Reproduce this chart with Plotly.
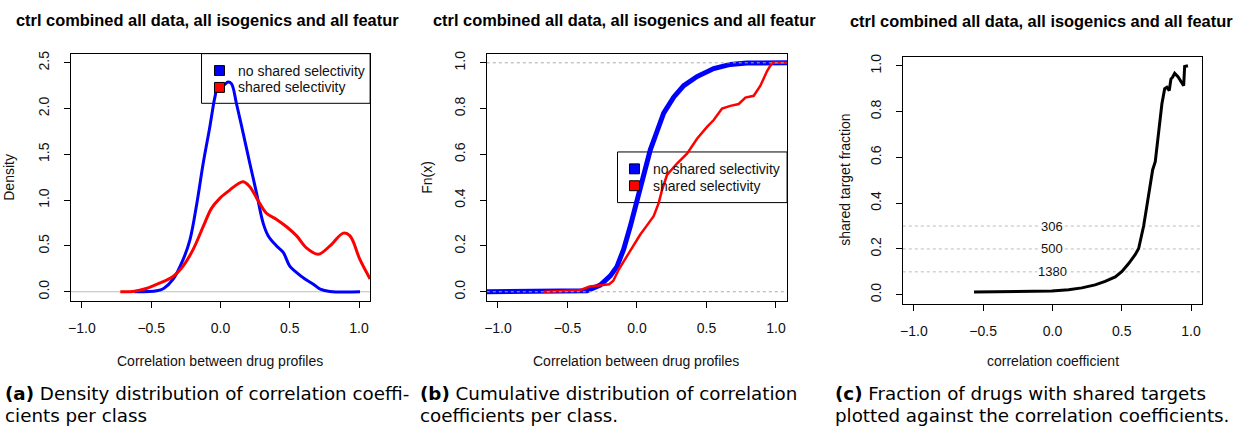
import plotly.graph_objects as go

W, H = 1241, 432

TITLE = "ctrl combined all data, all isogenics and all featur"

# (a) density curves
dens_no_x = [-0.62, -0.46, -0.41, -0.34, -0.27, -0.22, -0.17, -0.125, -0.077, -0.041, -0.017, 0.019,
             0.055, 0.08, 0.116, 0.164, 0.212, 0.26, 0.308, 0.345, 0.405, 0.453, 0.50, 0.55, 0.61,
             0.67, 0.72, 0.79, 1.007]
dens_no_y = [0.0, 0.01, 0.036, 0.14, 0.35, 0.57, 0.97, 1.40, 1.80, 2.12, 2.25, 2.25,
             2.29, 2.27, 2.05, 1.73, 1.40, 1.08, 0.75, 0.61, 0.50, 0.43, 0.28, 0.21, 0.14,
             0.083, 0.03, 0.004, 0.0]
dens_sh_x = [-0.723, -0.63, -0.535, -0.44, -0.34, -0.27, -0.198, -0.125, -0.065, -0.005, 0.067,
             0.128, 0.164, 0.21, 0.27, 0.33, 0.405, 0.477, 0.55, 0.62, 0.706, 0.79, 0.887, 0.935,
             1.007, 1.08]
dens_sh_y = [0.0, 0.004, 0.036, 0.094, 0.17, 0.28, 0.46, 0.71, 0.91, 1.02, 1.11,
             1.18, 1.20, 1.15, 1.00, 0.86, 0.79, 0.71, 0.61, 0.48, 0.41, 0.50, 0.64, 0.61,
             0.35, 0.14]

# (b) empirical cumulative distributions
ecdf_no_x = [-1.08, -0.43, -0.36, -0.264, -0.192, -0.144, -0.096, -0.048, 0.0, 0.048, 0.096,
             0.144, 0.192, 0.264, 0.336, 0.432, 0.552, 0.672, 0.79, 1.08]
ecdf_no_y = [0.0, 0.0, 0.004, 0.029, 0.069, 0.11, 0.185, 0.286, 0.40, 0.52, 0.62,
             0.70, 0.78, 0.85, 0.90, 0.94, 0.975, 0.993, 0.999, 1.0]
ecdf_sh_x = [-0.67, -0.43, -0.41, -0.34, -0.26, -0.20, -0.17, -0.13, -0.072, -0.024, 0.024, 0.072,
             0.12, 0.156, 0.18, 0.216, 0.288, 0.36, 0.432, 0.504, 0.552, 0.612, 0.672, 0.732,
             0.78, 0.84, 0.888, 0.936, 0.972, 1.08]
ecdf_sh_y = [0.0, 0.004, 0.007, 0.023, 0.029, 0.033, 0.048, 0.098, 0.156, 0.206, 0.25, 0.29,
             0.33, 0.387, 0.444, 0.51, 0.56, 0.603, 0.668, 0.72, 0.75, 0.80, 0.812, 0.82,
             0.848, 0.856, 0.90, 0.964, 1.0, 1.0]
ecdf_ref = [0, 1]

# (c) shared target fraction vs correlation
frac_x = [-0.566, -0.414, -0.173, -0.005, 0.116, 0.212, 0.308, 0.38, 0.453, 0.50, 0.55, 0.598,
          0.622, 0.639, 0.658, 0.675, 0.694, 0.713, 0.723, 0.742, 0.754, 0.766, 0.778, 0.79,
          0.81, 0.826, 0.843, 0.855, 0.867, 0.882, 0.906, 0.947, 0.954, 0.978]
frac_y = [0.0116, 0.012, 0.013, 0.016, 0.022, 0.030, 0.043, 0.058, 0.078, 0.101, 0.136, 0.176,
          0.202, 0.249, 0.30, 0.364, 0.436, 0.523, 0.545, 0.581, 0.639, 0.711, 0.754, 0.834,
          0.90, 0.906, 0.892, 0.942, 0.95, 0.967, 0.952, 0.913, 0.997, 1.0]
thresholds = [0.3, 0.2, 0.1]
threshold_labels = ["306", "500", "1380"]

legend_names = ["no shared selectivity", "shared selectivity"]
legend_colors = ["#0000FF", "#FF0000"]

captions = [
    ("<b>(a)</b> Density distribution of correlation coeffi-", "cients per class"),
    ("<b>(b)</b> Cumulative distribution of correlation", "coefficients per class."),
    ("<b>(c)</b> Fraction of drugs with shared targets", "plotted against the correlation coefficients."),
]

FONT = "Liberation Sans, Arial, sans-serif"
CAP_FONT = "DejaVu Sans, sans-serif"


def px(x):
    return x / W


def py(y):
    return 1 - y / H


fig = go.Figure()

# panel a
fig.add_trace(go.Scatter(x=[-1.08, 1.08], y=[0, 0], mode="lines",
                         line=dict(color="#bebebe", width=1), xaxis="x", yaxis="y"))
fig.add_trace(go.Scatter(x=dens_no_x, y=dens_no_y, mode="lines", line_shape="spline",
                         line=dict(color=legend_colors[0], width=3), xaxis="x", yaxis="y"))
fig.add_trace(go.Scatter(x=dens_sh_x, y=dens_sh_y, mode="lines", line_shape="spline",
                         line=dict(color=legend_colors[1], width=3), xaxis="x", yaxis="y"))

# panel b
fig.add_trace(go.Scatter(x=ecdf_no_x, y=ecdf_no_y, mode="lines",
                         line=dict(color=legend_colors[0], width=5), xaxis="x2", yaxis="y2"))
fig.add_trace(go.Scatter(x=ecdf_sh_x, y=ecdf_sh_y, mode="lines",
                         line=dict(color=legend_colors[1], width=2.5), xaxis="x2", yaxis="y2"))
for v in ecdf_ref:
    fig.add_trace(go.Scatter(x=[-1.08, 1.08], y=[v, v], mode="lines",
                             line=dict(color="#aaaaaa", width=1, dash="dot"), xaxis="x2", yaxis="y2"))

# panel c
for v, lab in zip(thresholds, threshold_labels):
    fig.add_trace(go.Scatter(x=[-1.08, 1.08], y=[v, v], mode="lines",
                             line=dict(color="#bbbbbb", width=1, dash="dot"), xaxis="x3", yaxis="y3"))
    fig.add_annotation(x=0, y=v, xref="x3", yref="y3", text=lab, showarrow=False,
                       font=dict(family=FONT, size=13, color="#111"), bgcolor="white",
                       borderpad=0)
fig.add_trace(go.Scatter(x=frac_x, y=frac_y, mode="lines",
                         line=dict(color="black", width=3), xaxis="x3", yaxis="y3"))

axis_common = dict(showline=True, mirror=True, linecolor="black", linewidth=1,
                   ticks="outside", ticklen=6, tickwidth=1, tickcolor="black",
                   showgrid=False, zeroline=False,
                   tickfont=dict(family=FONT, size=14, color="#111"))
xticks = dict(tickvals=[-1, -0.5, 0, 0.5, 1], tickformat=".1f", range=[-1.08, 1.08],
              ticklabelstandoff=8)

fig.update_layout(
    width=W, height=H, margin=dict(l=0, r=0, t=0, b=0),
    plot_bgcolor="white", paper_bgcolor="white", showlegend=False,
    xaxis=dict(domain=[px(68), px(368)], anchor="y", **xticks, **axis_common),
    yaxis=dict(domain=[py(300), py(51)], anchor="x", range=[-0.1, 2.6],
               tickvals=[0, 0.5, 1, 1.5, 2, 2.5], tickformat=".1f", tickangle=-90,
               ticklabelstandoff=9, **axis_common),
    xaxis2=dict(domain=[px(485), px(786)], anchor="y2", **xticks, **axis_common),
    yaxis2=dict(domain=[py(300), py(51)], anchor="x2", range=[-0.04, 1.04],
                tickvals=[0, 0.2, 0.4, 0.6, 0.8, 1.0], tickformat=".1f", tickangle=-90,
                ticklabelstandoff=9, **axis_common),
    xaxis3=dict(domain=[px(902), px(1202)], anchor="y3", **xticks, **axis_common),
    yaxis3=dict(domain=[py(303), py(54)], anchor="x3", range=[-0.04, 1.04],
                tickvals=[0, 0.2, 0.4, 0.6, 0.8, 1.0], tickformat=".1f", tickangle=-90,
                ticklabelstandoff=9, **axis_common),
)

# titles
for x0, y0 in [(11, 17), (429, 17), (847, 18)]:
    fig.add_annotation(x=px(x0), y=py(y0), xref="paper", yref="paper", text="<b>" + TITLE + "</b>",
                       xanchor="left", yanchor="middle", showarrow=False,
                       font=dict(family=FONT, size=16.4, color="black"))

# axis titles
for cx, label in [(218, "Correlation between drug profiles"), (635, "Correlation between drug profiles"),
                  (1053, "correlation coefficient")]:
    fig.add_annotation(x=px(cx), y=py(360), xref="paper", yref="paper", text=label,
                       showarrow=False, xanchor="center", yanchor="middle",
                       font=dict(family=FONT, size=14, color="#111"))
for cx, cy, label in [(6, 175, "Density"), (425, 175, "Fn(x)"), (844, 178, "shared target fraction")]:
    fig.add_annotation(x=px(cx), y=py(cy), xref="paper", yref="paper", text=label, textangle=-90,
                       showarrow=False, xanchor="center", yanchor="middle",
                       font=dict(family=FONT, size=14, color="#111"))

# legends (drawn R-style, transparent box)
for (bx0, by0, bx1, by1), (sx, sy0, dy) in [((199, 51, 368, 101), (217, 68, 17)),
                                             ((616, 150, 786, 201), (633, 167, 17))]:
    fig.add_shape(type="rect", xref="paper", yref="paper", x0=px(bx0), x1=px(bx1),
                  y0=py(by1), y1=py(by0), line=dict(color="black", width=1), layer="below")
    for i, (name, col) in enumerate(zip(legend_names, legend_colors)):
        cy = sy0 + i * dy
        fig.add_shape(type="rect", xref="paper", yref="paper", x0=px(sx - 5), x1=px(sx + 5),
                      y0=py(cy + 5), y1=py(cy - 5), fillcolor=col,
                      line=dict(color="black", width=1))
        fig.add_annotation(x=px(sx + 17), y=py(cy), xref="paper", yref="paper", text=name,
                           xanchor="left", yanchor="middle", showarrow=False,
                           font=dict(family=FONT, size=14, color="#111"))

# captions
for x0, (l1, l2) in zip([0, 416, 832], captions):
    fig.add_annotation(x=px(x0), y=py(393), xref="paper", yref="paper", text=l1,
                       xanchor="left", yanchor="middle", showarrow=False,
                       font=dict(family=CAP_FONT, size=18.3, color="black"))
    fig.add_annotation(x=px(x0), y=py(415), xref="paper", yref="paper", text=l2,
                       xanchor="left", yanchor="middle", showarrow=False,
                       font=dict(family=CAP_FONT, size=18.3, color="black"))

fig.write_html("out.html", config={"displayModeBar": False},
               post_script="document.body.style.margin='0';")
